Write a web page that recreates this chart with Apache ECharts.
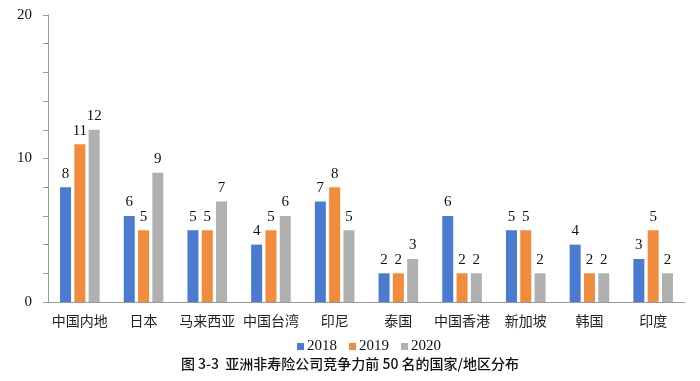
<!DOCTYPE html>
<html>
<head>
<meta charset="utf-8">
<script src="https://cdn.jsdelivr.net/npm/echarts@6/dist/echarts.min.js"></script>
<style>html,body{margin:0;padding:0;background:#fff;}#c{width:700px;height:381px;}</style>
</head>
<body>
<div id="c"></div>
<script>
var categories = ['中国内地','日本','马来西亚','中国台湾','印尼','泰国','中国香港','新加坡','韩国','印度'];
var s2018 = [8,6,5,4,7,2,6,5,4,3];
var s2019 = [11,5,5,5,8,2,2,5,2,5];
var s2020 = [12,9,7,6,5,3,2,2,2,2];
var seriesNames = ['2018','2019','2020'];
var colors = ['#4A7BD0','#F08C3C','#B0B0B0'];
var yTickLabels = ['0','10','20'];
var title = '图 3-3  亚洲非寿险公司竞争力前 50 名的国家/地区分布';

var chart = echarts.init(document.getElementById('c'));
var serif = '"Liberation Serif", "Times New Roman", serif';
var cjk = '"Noto Sans CJK SC", sans-serif';
function mk(name, data, color) {
  return {
    name: name, type: 'bar', data: data, barWidth: 11, barGap: '30%',
    itemStyle: { color: color },
    label: { show: true, position: 'top', distance: 6, color: '#111', fontFamily: serif, fontSize: 15 }
  };
}
chart.setOption({
  animation: false,
  backgroundColor: '#fff',
  title: {
    text: title, left: 'center', top: 352,
    textStyle: { fontFamily: cjk, fontSize: 14, fontWeight: 500, color: '#111' }
  },
  legend: {
    data: seriesNames, left: 292, top: 334, itemWidth: 7, itemHeight: 7, itemGap: 12,
    icon: 'rect',
    textStyle: { fontFamily: serif, fontSize: 15, color: '#111', padding: [0,0,0,-2] }
  },
  grid: { left: 48, right: 15, top: 15, bottom: 79, containLabel: false },
  xAxis: {
    type: 'category', data: categories,
    axisLine: { lineStyle: { color: '#9a9a9a' } },
    axisTick: { show: false },
    axisLabel: { interval: 0, fontFamily: cjk, fontSize: 14, color: '#222', margin: 12 }
  },
  yAxis: {
    type: 'value', min: 0, max: 20, interval: 2,
    axisLine: { show: true, lineStyle: { color: '#9a9a9a' } },
    axisTick: { show: true, length: 5, lineStyle: { color: '#9a9a9a' } },
    splitLine: { show: false },
    axisLabel: {
      fontFamily: serif, fontSize: 15, color: '#111', margin: 16,
      formatter: function (v) { var s = String(v); return yTickLabels.indexOf(s) >= 0 ? s : ''; }
    }
  },
  series: [mk(seriesNames[0], s2018, colors[0]), mk(seriesNames[1], s2019, colors[1]), mk(seriesNames[2], s2020, colors[2])]
});
</script>
</body>
</html>
